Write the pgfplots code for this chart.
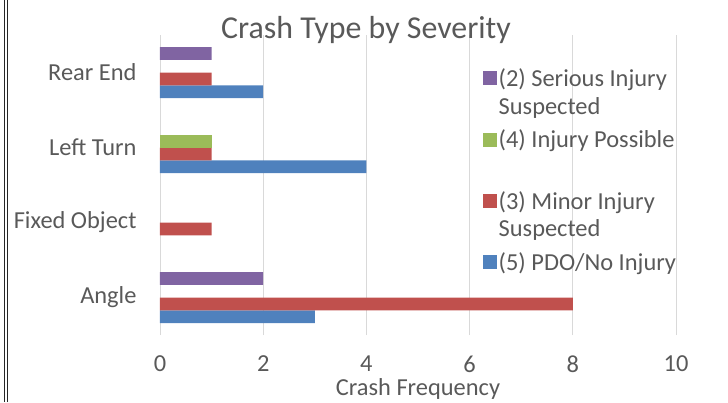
\documentclass[border=0pt]{standalone}
\usepackage{pgfplots}
\pgfplotsset{compat=1.18}
\usepackage{fontspec}
\setmainfont{Carlito}
\definecolor{cblue}{HTML}{4F81BD}
\definecolor{cred}{HTML}{C0504D}
\definecolor{cgreen}{HTML}{9BBB59}
\definecolor{cpurple}{HTML}{8064A2}
\definecolor{txt}{HTML}{595959}
\definecolor{gridc}{HTML}{D9D9D9}
\begin{document}
\begin{tikzpicture}[x=1bp,y=1bp]
\path[use as bounding box] (-160,-67) rectangle (568,335);
\draw[black!85,line width=1.2bp] (-155.5,-67) -- (-155.5,335);
\draw[black!85,line width=1.2bp] (-152.5,-67) -- (-152.5,335);
\begin{axis}[
  at={(0,0)}, anchor=south west,
  scale only axis, width=516bp, height=300bp,
  xbar, bar width=0.17,
  xmin=0, xmax=10, ymin=-0.5, ymax=3.5,
  xtick={0,2,...,10},
  ytick={0,1,2,3},
  yticklabels={Angle,Fixed Object,Left Turn,Rear End},
  major tick length=0pt,
  axis line style={draw=none},
  xmajorgrids, major grid style={gridc, line width=0.9bp},
  extra x ticks={0}, extra x tick labels={},
  extra x tick style={grid style={gridc,line width=1.2bp}},
  ticklabel style={font=\fontsize{24.5}{28}\selectfont, text=txt},
  /pgf/number format/assume math mode=true,
  xticklabel style={yshift=-20.5bp, inner sep=0pt},
  yticklabel style={xshift=-20bp},
  xlabel={Crash Frequency},
  xlabel style={font=\fontsize{24.5}{28}\selectfont, text=txt, inner sep=0pt,
    at={(axis description cs:0.5,0)}, anchor=base, yshift=-60.5bp},
  title={Crash Type by Severity},
  title style={font=\fontsize{32}{36}\selectfont, text=txt, yshift=-18bp, xshift=-52bp},
  legend cell align=left,
  legend style={draw=none, fill=none, at={(0.625,0.895)}, anchor=north west,
    font=\fontsize{24.5}{28}\selectfont, text=txt,
    cells={align=left}, row sep=10bp, inner sep=0pt},
  legend image code/.code={\fill[#1] (0bp,7bp) rectangle (14bp,21bp);},
  reverse legend,
]
\addplot[fill=cblue, draw=none, bar shift=-0.255] coordinates {(3,0) (4,2) (2,3)};
\addplot[fill=cred, draw=none, bar shift=-0.085] coordinates {(8,0) (1,1) (1,2) (1,3)};
\addplot[fill=cgreen, draw=none, bar shift=0.085] coordinates {(1,2)};
\addplot[fill=cpurple, draw=none, bar shift=0.255] coordinates {(2,0) (1,3)};
\legend{{(5) PDO/No Injury\\\strut},{(3) Minor Injury\\Suspected},{(4) Injury Possible\\\strut},{(2) Serious Injury\\Suspected}}
\end{axis}
\end{tikzpicture}
\end{document}
